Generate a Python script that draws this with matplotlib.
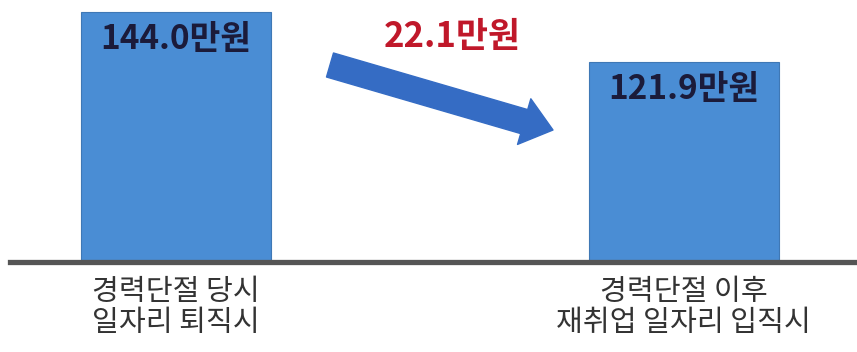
import matplotlib.pyplot as plt

plt.rcParams['font.family'] = ['Noto Sans CJK KR', 'DejaVu Sans']

categorias = ['경력단절 당시\n일자리 퇴직시', '경력단절 이후\n재취업 일자리 입직시']
salarios = [144.0, 121.9]  # 만원
diferenca = salarios[0] - salarios[1]

cor_barra = '#4A8DD4'
cor_seta = '#356CC4'

fig = plt.figure(figsize=(8.57, 3.52), dpi=100)
ax = fig.add_axes([0, 0.2557, 1, 0.7443])

x = range(len(categorias))
ax.bar(x, salarios, width=0.374, color=cor_barra, edgecolor='#3F78B5', linewidth=0.8)

# eixo cortado como no original
ax.set_ylim(33.5, 149.3)
ax.set_xlim(-0.346, 1.341)

ax.axhline(33.5, xmin=0.012, xmax=1, color='#555555', lw=3.8, clip_on=False, zorder=5)

for i, v in enumerate(salarios):
    ax.annotate(f'{v:.1f}만원', xy=(i, v), xytext=(0, -20), textcoords='offset points',
                ha='center', va='center', fontsize=24, fontweight='bold', color='#1B1B3A')

ax.set_xticks(list(x))
ax.set_xticklabels(categorias, fontsize=21, color='#333333', linespacing=1.02)
ax.tick_params(axis='x', length=0, pad=11)
ax.set_yticks([])
for s in ax.spines.values():
    s.set_visible(False)

# seta de queda
fig.text(452 / 857, 1 - 36 / 352, f'{diferenca:.1f}만원', ha='center', va='center',
         fontsize=25, fontweight='bold', color='#C0182A')
ax.annotate('', xy=(553, 222), xytext=(330, 287), xycoords='figure pixels', textcoords='figure pixels',
            arrowprops=dict(arrowstyle='simple,head_width=1.9,head_length=1.2,tail_width=1',
                            mutation_scale=18, color=cor_seta, shrinkA=0, shrinkB=0))

fig.savefig('out.png', dpi=100)
